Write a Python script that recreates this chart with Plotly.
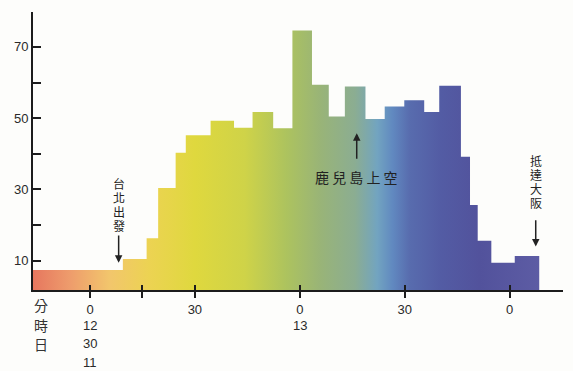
import plotly.graph_objects as go

# ---- data (minutes after 12:00, passengers/counts) ----
bin_edges = [-16.3, 9.4, 16.2, 19.5, 24.5, 27.4, 34.5, 41.2, 46.5, 52.4, 57.9,
             63.5, 68.3, 72.9, 78.8, 84.3, 89.9, 95.6, 99.9, 106.1, 108.7,
             110.9, 114.8, 121.5, 128.5]
bin_values = [7.4, 10.5, 16.3, 30.4, 40.3, 45.2, 49.3, 47.3, 51.7, 47.2,
              74.6, 59.4, 50.5, 58.9, 49.8, 53.3, 55.0, 51.7, 59.1, 39.2,
              25.6, 15.6, 9.4, 11.3]

x_tick_vals = [0, 15, 30, 60, 90, 120]
x_tick_text = ["0", "", "30", "0", "30", "0"]
y_tick_vals = [10, 20, 30, 40, 50, 60, 70]
y_tick_text = ["10", "", "30", "", "50", "", "70"]

hour_labels = [(0, "12"), (60, "13")]
row_titles = ["分", "時", "日"]

gradient = [
    [0.000, "#e6775f"], [0.073, "#ee9c6c"], [0.152, "#f2c66c"],
    [0.230, "#ecd352"], [0.320, "#dfd83e"], [0.418, "#cfd348"],
    [0.500, "#adc35e"], [0.567, "#99b477"], [0.636, "#8bad92"],
    [0.680, "#72a4c0"], [0.710, "#6189c0"], [0.744, "#586cae"],
    [0.804, "#535ca4"], [0.883, "#52529c"], [1.000, "#5d5ca4"],
]

xs = list(bin_edges)
ys = list(bin_values) + [bin_values[-1]]
xs.append(bin_edges[-1])
ys.append(0)

fig = go.Figure()
fig.add_trace(go.Scatter(
    x=xs, y=ys, mode="lines", line=dict(width=0, shape="hv"),
    fill="tozeroy",
    fillgradient=dict(type="horizontal", colorscale=gradient,
                      start=bin_edges[0], stop=bin_edges[-1]),
    hoverinfo="skip", showlegend=False,
))
# invisible trace on the overlay axis so it renders its inner ticks
fig.add_trace(go.Scatter(x=[0], y=[None], xaxis="x2", showlegend=False,
                         hoverinfo="skip", mode="markers"))

axis_col = "#1c1c1c"
label_font = dict(family="Liberation Sans, Arial, sans-serif", size=13, color="#2a2a2a")
cjk = "Noto Sans CJK TC, Noto Sans CJK SC, sans-serif"

fig.update_layout(
    width=573, height=371,
    margin=dict(l=33, r=10, t=12, b=81),
    paper_bgcolor="#fdfdfb", plot_bgcolor="#fdfdfb",
    xaxis=dict(range=[-16.3, 135.3], showline=True, linecolor=axis_col, linewidth=2,
               ticks="outside", ticklen=6, tickwidth=1.6, tickcolor=axis_col,
               tickvals=x_tick_vals, ticktext=x_tick_text, tickfont=label_font,
               showgrid=False, zeroline=False, fixedrange=True, automargin=False),
    xaxis2=dict(overlaying="x", matches="x", anchor="y", side="bottom",
                ticks="inside", ticklen=5, tickwidth=1.6, tickcolor=axis_col,
                tickvals=x_tick_vals, showticklabels=False, showline=False,
                showgrid=False, zeroline=False, automargin=False),
    yaxis=dict(range=[1.77, 79.8], showline=True, linecolor=axis_col, linewidth=2,
               ticks="inside", ticklen=8, tickwidth=1.6, tickcolor=axis_col,
               tickvals=y_tick_vals, ticktext=y_tick_text, tickfont=label_font,
               showgrid=False, zeroline=False, fixedrange=True, automargin=False),
)

ann = []
# row titles 分 / 時 / 日 and hour/day labels under the x axis
row_y = [-0.054, -0.126, -0.194, -0.259]
for i, t in enumerate(row_titles):
    ann.append(dict(x=-14.0, y=row_y[i], xref="x", yref="paper", text=t,
                    showarrow=False, yanchor="middle", xanchor="center",
                    font=dict(family=cjk, size=14, color="#333")))
for xv, t in hour_labels:
    ann.append(dict(x=xv, y=row_y[1], xref="x", yref="paper", text=t,
                    showarrow=False, yanchor="middle", font=label_font))
ann.append(dict(x=0, y=row_y[2], xref="x", yref="paper", text="30",
                showarrow=False, yanchor="middle", font=label_font))
ann.append(dict(x=0, y=row_y[3], xref="x", yref="paper", text="11",
                showarrow=False, yanchor="middle", font=label_font))

# vertical labels: one annotation per character, stacked downwards
def vertical(text, x, y_top, step):
    for i, ch in enumerate(text):
        ann.append(dict(x=x, y=y_top - i * step, xref="x", yref="y", text=ch,
                        showarrow=False, yanchor="middle",
                        font=dict(family=cjk, size=12, color="#222")))

vertical("台北出發", 8.2, 31.6, 3.95)
vertical("抵達大阪", 127.5, 38.2, 3.95)
ann.append(dict(x=76.2, y=33.4, xref="x", yref="y", text="鹿 兒 島 上 空",
                showarrow=False, font=dict(family=cjk, size=14, color="#222")))

# arrows
def arrow(x, y_head, y_tail):
    ann.append(dict(x=x, y=y_head, ax=x, ay=y_tail, xref="x", yref="y",
                    axref="x", ayref="y", text="", showarrow=True,
                    arrowhead=2, arrowsize=1, arrowwidth=1.5,
                    arrowcolor="#222", standoff=0, startstandoff=0))

arrow(8.2, 9.4, 17.5)
arrow(127.5, 14.0, 21.8)
arrow(76.3, 45.8, 38.2)

fig.update_layout(annotations=ann)
fig.write_html("out.html", config={"displayModeBar": False},
               post_script="document.body.style.margin='0';")
